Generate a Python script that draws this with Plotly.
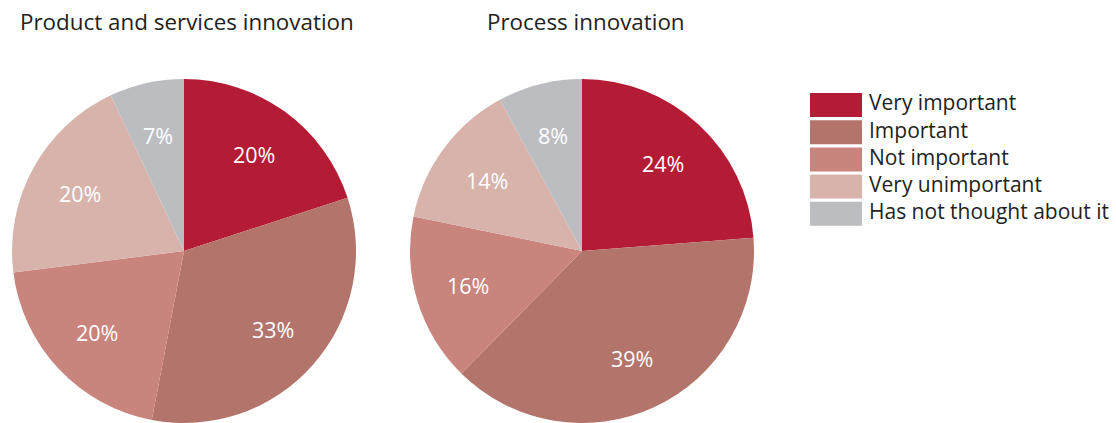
import math
import plotly.graph_objects as go

W, H = 1116, 423

categories = ["Very important", "Important", "Not important",
              "Very unimportant", "Has not thought about it"]
product_values = [20, 33, 20, 20, 7]
process_values = [24, 39, 16, 14, 8]
colors = ["#B41B35", "#B3746B", "#C8847D", "#D8B3AB", "#BCBDC1"]
titles = ["Product and services innovation", "Process innovation"]

FONT = "Open Sans"
TEXT = "#231F20"

# Pie placement in pixels: left and right edges of each pie
PIE_X = [(12, 356), (410, 754)]
PIE_TOP = 79  # distance from page top to pie domain top

fig = go.Figure()


def add_pie(values, x0, x1):
    fig.add_trace(go.Pie(
        labels=categories,
        values=values,
        sort=False,
        direction="clockwise",
        rotation=0,
        marker=dict(colors=colors, line=dict(width=0)),
        textinfo="none",
        hoverinfo="label+value",
        showlegend=False,
        domain=dict(x=[x0 / W, x1 / W], y=[0, 1 - PIE_TOP / H]),
    ))
    # value labels placed along each slice's bisector
    size = min(x1 - x0, H - PIE_TOP)
    r = size / 2
    cx = (x0 + x1) / 2
    cy = H - (H - PIE_TOP) / 2
    total = sum(values)
    cum = 0
    for v in values:
        mid = (cum + v / 2) / total * 2 * math.pi
        cum += v
        px = cx + 0.69 * r * math.sin(mid)
        py = cy - 0.69 * r * math.cos(mid)
        fig.add_annotation(
            text=f"{v}%", x=px / W, y=1 - py / H, xref="paper", yref="paper",
            xanchor="center", yanchor="middle", showarrow=False,
            font=dict(family=FONT, size=21.5, color="white"),
        )


for vals, (x0, x1) in zip([product_values, process_values], PIE_X):
    add_pie(vals, x0, x1)

# Chart titles
for text, x in zip(titles, [18, 485]):
    fig.add_annotation(
        text=text, x=x / W, y=1 - 22 / H, xref="paper", yref="paper",
        xanchor="left", yanchor="middle", showarrow=False,
        font=dict(family=FONT, size=22.4, color=TEXT),
    )

# Legend with wide swatches
shapes = []
for i, (name, c) in enumerate(zip(categories, colors)):
    top = 93 + i * 27.2
    shapes.append(dict(
        type="rect", xref="paper", yref="paper",
        x0=810 / W, x1=862 / W, y0=1 - (top + 24) / H, y1=1 - top / H,
        fillcolor=c, line=dict(width=0),
    ))
    fig.add_annotation(
        text=name, x=867 / W, y=1 - (top + 9.5) / H, xref="paper", yref="paper",
        xanchor="left", yanchor="middle", showarrow=False,
        font=dict(family=FONT, size=21, color=TEXT),
    )

fig.update_layout(
    width=W, height=H,
    margin=dict(l=0, r=0, t=0, b=0),
    paper_bgcolor="white",
    plot_bgcolor="white",
    shapes=shapes,
)

fig.write_html("out.html")
